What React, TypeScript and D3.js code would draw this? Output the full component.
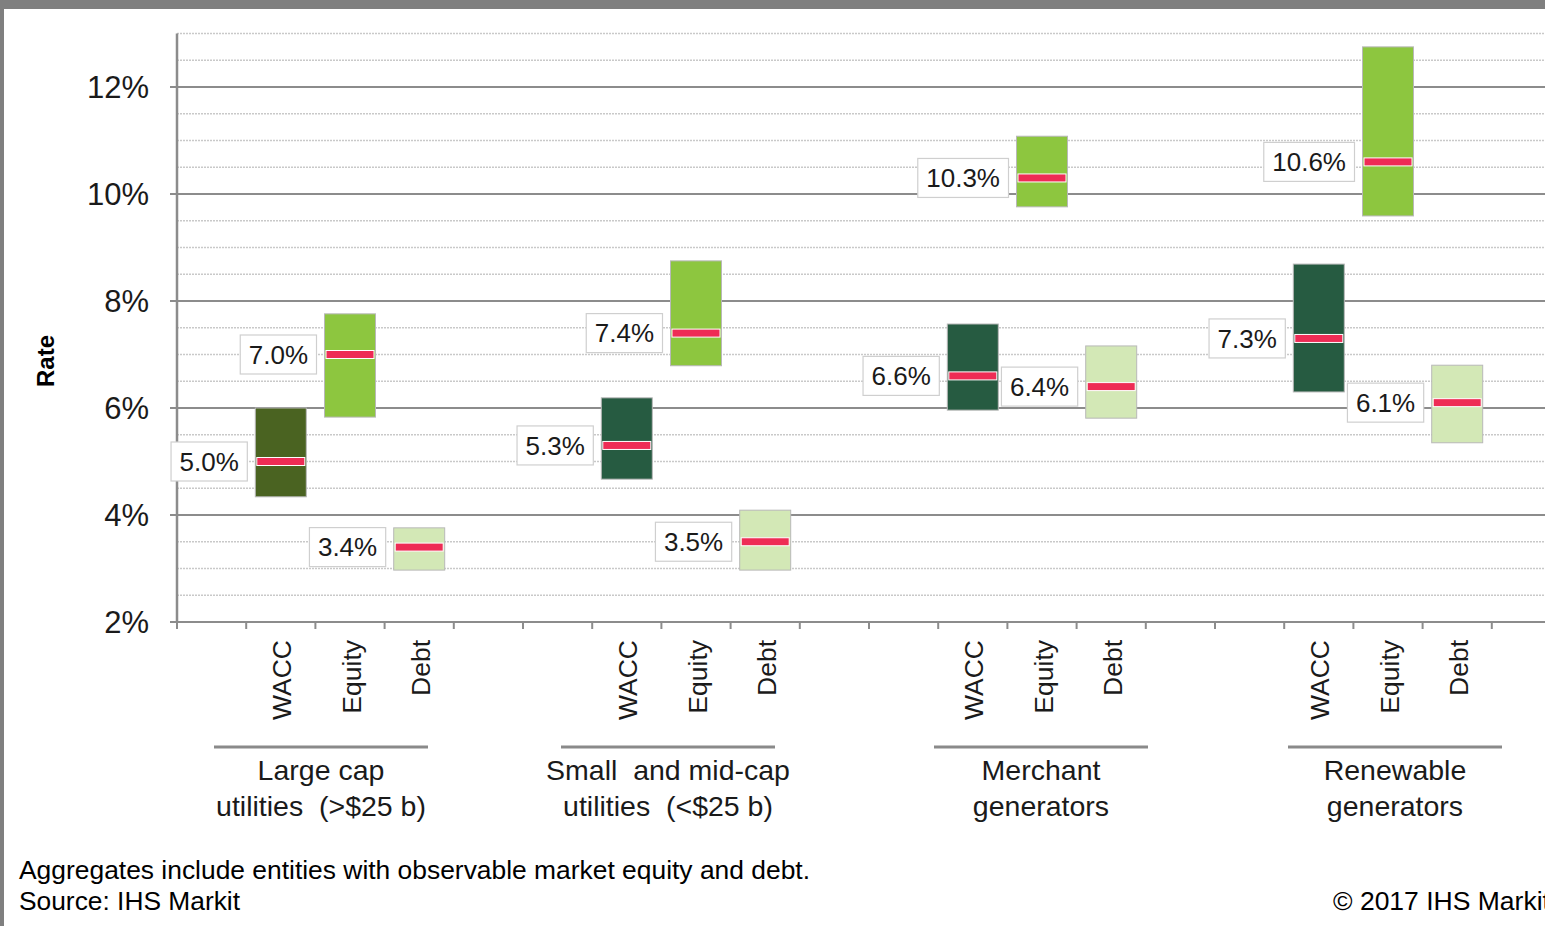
import React from "react";
import * as d3 from "d3";

// ---- data ----
const groups = ["Large cap|utilities  (>$25 b)", "Small  and mid-cap|utilities  (<$25 b)", "Merchant|generators", "Renewable|generators"];
const measures = ["WACC", "Equity", "Debt"];
const waccLow = [4.34, 4.67, 5.96, 6.3];
const waccMid = [5.0, 5.3, 6.6, 7.3];
const waccHigh = [6.0, 6.19, 7.57, 8.69];
const equityLow = [5.83, 6.79, 9.76, 9.59];
const equityMid = [7.0, 7.4, 10.3, 10.6];
const equityHigh = [7.76, 8.75, 11.08, 12.75];
const debtLow = [2.97, 2.97, 5.81, 5.35];
const debtMid = [3.4, 3.5, 6.4, 6.1];
const debtHigh = [3.76, 4.09, 7.16, 6.8];
const yTicks = [2, 4, 6, 8, 10, 12];
const footnote = "Aggregates include entities with observable market equity and debt.";
const source = "Source: IHS Markit";
const copyright = "© 2017 IHS Markit";
const yTitle = "Rate";

const W = 1545;
const H = 926;
const FONT = "'Liberation Sans', Arial, Helvetica, sans-serif";

export default function App() {
  // slots: 1 empty, then each group 3 measures followed by 2 empties
  const slots: string[] = ["e0"];
  groups.forEach((g, gi) => {
    measures.forEach((m) => slots.push(`${gi}-${m}`));
    slots.push(`e${gi}a`, `e${gi}b`);
  });
  const step = 69.2;
  const x0 = 177;
  const pad = 0.263;
  const x = d3
    .scaleBand<string>()
    .domain(slots)
    .range([x0, x0 + step * slots.length])
    .paddingInner(pad)
    .paddingOuter(pad / 2);
  const y = d3.scaleLinear().domain([2, 13]).range([622, 33.5]);

  const boxes: { key: string; gi: number; m: string; lo: number; mid: number; hi: number; fill: string }[] = [];
  groups.forEach((_, gi) => {
    boxes.push({ key: `${gi}-WACC`, gi, m: "WACC", lo: waccLow[gi], mid: waccMid[gi], hi: waccHigh[gi], fill: gi === 0 ? "#4a6321" : "#265b41" });
    boxes.push({ key: `${gi}-Equity`, gi, m: "Equity", lo: equityLow[gi], mid: equityMid[gi], hi: equityHigh[gi], fill: "#8dc63f" });
    boxes.push({ key: `${gi}-Debt`, gi, m: "Debt", lo: debtLow[gi], mid: debtMid[gi], hi: debtHigh[gi], fill: "#d3e8b6" });
  });

  const minor = d3.range(2.5, 13.01, 0.5).filter((v) => Math.abs(v % 2) > 1e-6);
  const stepPx = x.step();
  const boundaries = slots.map((s) => (x(s) as number) - (stepPx * pad) / 2);

  let ctx: CanvasRenderingContext2D | null = null;
  try {
    ctx = document.createElement("canvas").getContext("2d");
  } catch (e) {
    ctx = null;
  }
  const labelFs = 26;
  const measure = (t: string) => {
    if (ctx) {
      ctx.font = `${labelFs}px ${FONT}`;
      return ctx.measureText(t).width;
    }
    return t.length * labelFs * 0.56;
  };

  const groupShift = [-29, -28, -1, 7];

  return (
    <div style={{ position: "absolute", left: 0, top: 0 }}>
      <svg width={W} height={H} style={{ display: "block", background: "#fff" }} fontFamily={FONT}>
        <rect x={0} y={0} width={W} height={9} fill="#7f7f7f" />
        <rect x={0} y={0} width={4} height={H} fill="#7f7f7f" />

        {/* minor gridlines */}
        {minor.map((v) => (
          <line key={`mn${v}`} x1={x0} x2={W} y1={y(v)} y2={y(v)} stroke="#c9c9c9" strokeWidth={1.5} strokeDasharray="2,1" />
        ))}
        {/* major gridlines */}
        {yTicks.map((v) => (
          <g key={`mj${v}`}>
            <line x1={170} x2={W} y1={y(v)} y2={y(v)} stroke="#8c8c8c" strokeWidth={2} />
            <text x={149} y={y(v)} dy="0.36em" textAnchor="end" fontSize={31} fill="#1a1a1a">
              {`${v}%`}
            </text>
          </g>
        ))}
        {/* y axis */}
        <line x1={x0} x2={x0} y1={y(13)} y2={y(2)} stroke="#8c8c8c" strokeWidth={2.5} />
        {/* x ticks */}
        {boundaries.map((b, i) => (
          <line key={`xt${i}`} x1={b} x2={b} y1={y(2)} y2={y(2) + 7} stroke="#8c8c8c" strokeWidth={2} />
        ))}
        <text transform={`translate(45,${361}) rotate(-90)`} textAnchor="middle" dy="0.36em" fontSize={24} fontWeight="bold" fill="#000">
          {yTitle}
        </text>

        {/* boxes */}
        {boxes.map((b) => {
          const bx = x(b.key) as number;
          const bw = x.bandwidth();
          const ym = y(b.mid);
          const txt = `${b.mid.toFixed(1)}%`;
          const tw = measure(txt);
          const lw = tw + 17;
          const lx = bx - 8 - lw;
          return (
            <g key={b.key}>
              <rect x={bx} y={y(b.hi)} width={bw} height={y(b.lo) - y(b.hi)} fill={b.fill} stroke="#b8b8b8" strokeWidth={1} />
              <rect x={bx + 1.5} y={ym - 4} width={bw - 3} height={8} fill="#ee2c55" stroke="#ffffff" strokeWidth={1} />
              <rect x={lx} y={ym - 19.5} width={lw} height={39} fill="#ffffff" stroke="#cfcfcf" strokeWidth={1.2} />
              <text x={lx + lw / 2} y={ym} dy="0.36em" textAnchor="middle" fontSize={labelFs} fill="#1a1a1a">
                {txt}
              </text>
            </g>
          );
        })}

        {/* category labels */}
        {boxes.map((b) => {
          const cx = (x(b.key) as number) + x.bandwidth() / 2;
          return (
            <text key={`cl${b.key}`} transform={`translate(${cx + 1},${640}) rotate(-90)`} dy="0.36em" textAnchor="end" fontSize={26.5} fill="#1a1a1a">
              {b.m}
            </text>
          );
        })}

        {/* group labels */}
        {groups.map((g, gi) => {
          const first = x(`${gi}-WACC`) as number;
          const last = (x(`${gi}-Debt`) as number) + x.bandwidth();
          const c = (first + last) / 2 + groupShift[gi];
          const lines = g.split("|");
          return (
            <g key={`g${gi}`}>
              <line x1={c - 107} x2={c + 107} y1={747} y2={747} stroke="#8a8a8a" strokeWidth={3} />
              {lines.map((l, li) => (
                <text key={li} x={c} y={780 + li * 36} textAnchor="middle" fontSize={28.5} fill="#1a1a1a" style={{ whiteSpace: "pre" }}>
                  {l}
                </text>
              ))}
            </g>
          );
        })}

        {/* footer */}
        <text x={19} y={879} fontSize={25} fill="#000" textLength={791} lengthAdjust="spacingAndGlyphs">
          {footnote}
        </text>
        <text x={19} y={910} fontSize={25} fill="#000" textLength={221} lengthAdjust="spacingAndGlyphs">
          {source}
        </text>
        <text x={1333} y={910} fontSize={26.5} fill="#000">
          {copyright}
        </text>
      </svg>
    </div>
  );
}
